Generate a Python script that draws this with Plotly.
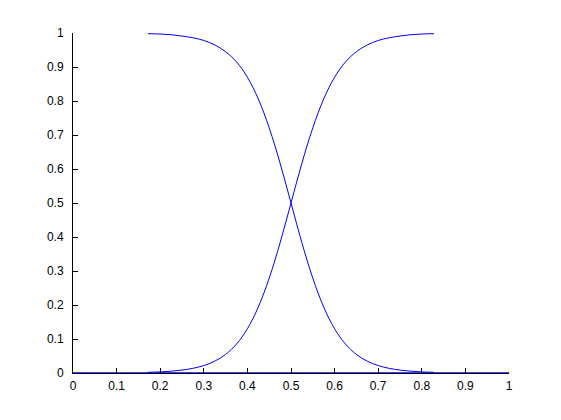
import plotly.graph_objects as go

x_vals = [0.172, 0.2, 0.225, 0.25, 0.275, 0.3, 0.325, 0.35, 0.375, 0.4, 0.425, 0.45, 0.475, 0.5,
          0.525, 0.55, 0.575, 0.6, 0.625, 0.65, 0.675, 0.7, 0.725, 0.75, 0.775, 0.8, 0.828]
rising = [0.002, 0.0033, 0.0053, 0.0086, 0.0137, 0.0219, 0.0347, 0.0547, 0.0851, 0.130, 0.194,
          0.279, 0.383, 0.5, 0.617, 0.721, 0.806, 0.870, 0.915, 0.945, 0.965, 0.978, 0.986,
          0.991, 0.995, 0.997, 0.998]
falling = [0.998, 0.997, 0.995, 0.991, 0.986, 0.978, 0.965, 0.945, 0.915, 0.870, 0.806, 0.721,
           0.617, 0.5, 0.383, 0.279, 0.194, 0.130, 0.0851, 0.0547, 0.0347, 0.0219, 0.0137,
           0.0086, 0.0053, 0.0033, 0.002]
base_x = [0, 1]
base_y = [0, 0]
tick_vals = [0, 0.1, 0.2, 0.3, 0.4, 0.5, 0.6, 0.7, 0.8, 0.9, 1]
tick_text = ["0", "0.1", "0.2", "0.3", "0.4", "0.5", "0.6", "0.7", "0.8", "0.9", "1"]

fig = go.Figure()
line_style = dict(color="#0000ff", width=1)
fig.add_trace(go.Scatter(x=x_vals, y=falling, mode="lines", line=dict(shape="spline", **line_style)))
fig.add_trace(go.Scatter(x=x_vals, y=rising, mode="lines", line=dict(shape="spline", **line_style)))
fig.add_trace(go.Scatter(x=base_x, y=base_y, mode="lines", line=dict(color="#0000ff", width=1.5)))

axis_common = dict(
    showgrid=False, zeroline=False, showline=True, linecolor="black", linewidth=1,
    ticks="inside", ticklen=5, tickcolor="black", tickwidth=1,
    tickvals=tick_vals, ticktext=tick_text,
    tickfont=dict(family="Liberation Sans, Arial, sans-serif", size=12, color="black"),
    range=[0, 1], fixedrange=True,
)
fig.update_layout(
    width=553, height=412,
    margin=dict(l=65, r=52, t=25, b=47),
    paper_bgcolor="white", plot_bgcolor="white",
    showlegend=False,
    xaxis=dict(**axis_common, ticklabelstandoff=2),
    yaxis=dict(**axis_common, ticklabelstandoff=6),
)
fig.write_html("out.html")
